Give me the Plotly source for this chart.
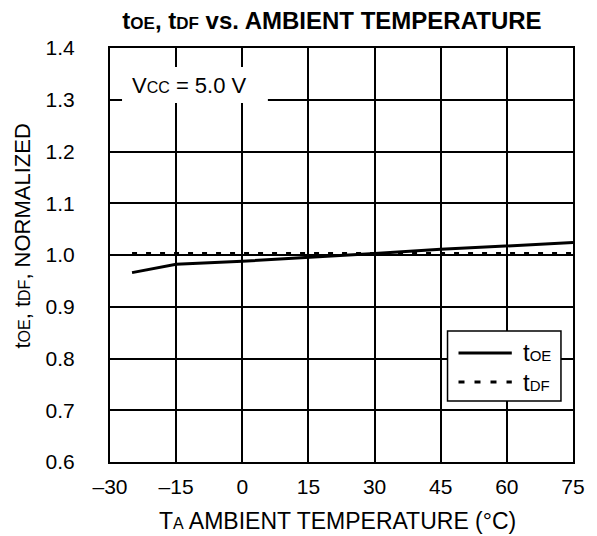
import plotly.graph_objects as go

# data
temp_oe = [-25, -15, 0, 15, 30, 45, 60, 75]
t_oe = [0.966, 0.982, 0.988, 0.995, 1.003, 1.011, 1.017, 1.024]
temp_df = [-25, -15, 0, 15, 30, 45, 60, 75]
t_df = [1.003, 1.003, 1.003, 1.003, 1.003, 1.003, 1.003, 1.003]

x_ticks = [-30, -15, 0, 15, 30, 45, 60, 75]
x_ticklabels = ['–30', '–15', '0', '15', '30', '45', '60', '75']
y_ticks = [0.6, 0.7, 0.8, 0.9, 1.0, 1.1, 1.2, 1.3, 1.4]

FONT = 'Liberation Sans, Arial, Helvetica, sans-serif'


def sm(s, size):
    return "<span style='font-size:%dpx'>%s</span>" % (size, s)


fig = go.Figure()
fig.add_trace(go.Scatter(x=temp_oe, y=t_oe, mode='lines', name='tOE',
                         line=dict(color='black', width=3), showlegend=False))
fig.add_trace(go.Scatter(x=temp_df, y=t_df, mode='lines', name='tDF',
                         line=dict(color='black', width=3, dash='5px,9px'), showlegend=False))

# page body adds an 8px margin, so the figure is kept smaller than the window
fig.update_layout(
    width=589, height=528,
    margin=dict(l=102, r=18, t=40, b=74),
    paper_bgcolor='white', plot_bgcolor='white',
    font=dict(family=FONT, size=21, color='black'),
    title=dict(text='<b>t' + sm('OE', 17) + ', t' + sm('DF', 17) + ' vs. AMBIENT TEMPERATURE</b>',
               x=0.55, xanchor='center', y=0.976, yanchor='middle',
               font=dict(size=24)),
)
fig.update_xaxes(range=[-30, 75], tickvals=x_ticks, ticktext=x_ticklabels,
                 showgrid=True, gridcolor='black', gridwidth=1.5,
                 showline=True, linecolor='black', linewidth=2, mirror=True,
                 zeroline=False, ticks='', ticklabelstandoff=5)
fig.update_yaxes(range=[0.6, 1.4], tickvals=y_ticks, tickformat='.1f',
                 showgrid=True, gridcolor='black', gridwidth=1.5,
                 showline=True, linecolor='black', linewidth=2, mirror=True,
                 zeroline=False, ticks='', ticklabelstandoff=29)

# axis titles
fig.add_annotation(x=0.4904, y=-0.1425, xref='paper', yref='paper', xanchor='center', yanchor='middle',
                   text='T' + sm('A', 16) + ' AMBIENT TEMPERATURE (°C)', showarrow=False,
                   font=dict(size=23))
fig.add_annotation(x=-0.19, y=0.5447, xref='paper', yref='paper', xanchor='center', yanchor='middle',
                   text='t' + sm('OE', 16) + ', t' + sm('DF', 16) + ', NORMALIZED', showarrow=False,
                   textangle=-90, font=dict(size=22))

# Vcc label box
fig.add_shape(type='rect', xref='paper', yref='paper', x0=0.026, x1=0.341, y0=0.867, y1=0.954,
              line=dict(width=0), fillcolor='white', layer='above')
fig.add_annotation(x=0.043, y=0.9106, xref='paper', yref='paper', xanchor='left', yanchor='middle',
                   text='V' + sm('CC', 16) + ' = 5.0 V', showarrow=False, font=dict(size=22))

# legend box drawn by hand
fig.add_shape(type='rect', xref='paper', yref='paper', x0=0.729, x1=0.974, y0=0.1473, y1=0.3164,
              line=dict(color='black', width=1.5), fillcolor='white', layer='above')
fig.add_shape(type='line', xref='paper', yref='paper', x0=0.7527, x1=0.8678, y0=0.2633, y1=0.2633,
              line=dict(color='black', width=3), layer='above')
fig.add_shape(type='line', xref='paper', yref='paper', x0=0.7527, x1=0.8678, y0=0.1932, y1=0.1932,
              line=dict(color='black', width=3, dash='6px,10px'), layer='above')
fig.add_annotation(x=0.887, y=0.2633, xref='paper', yref='paper', xanchor='left', yanchor='middle',
                   text='t' + sm('OE', 15), showarrow=False, font=dict(size=24))
fig.add_annotation(x=0.887, y=0.1932, xref='paper', yref='paper', xanchor='left', yanchor='middle',
                   text='t' + sm('DF', 15), showarrow=False, font=dict(size=24))

fig.write_html("out.html")
